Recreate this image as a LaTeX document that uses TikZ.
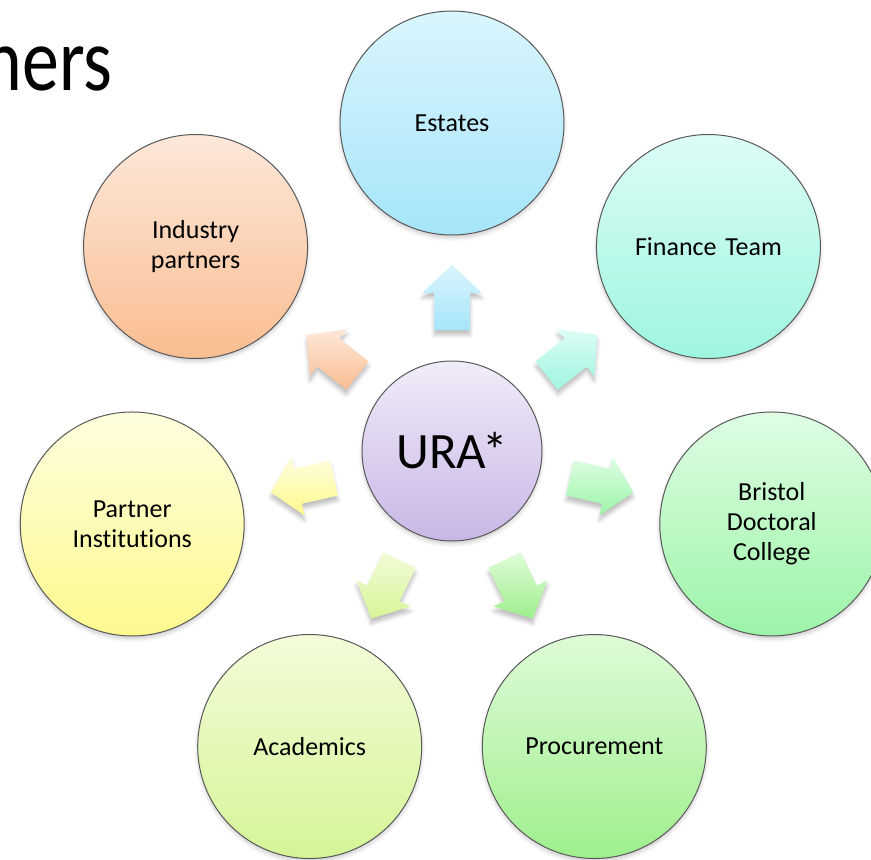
\documentclass[tikz,border=0pt]{standalone}
\usepackage{fontspec}
\setmainfont{Carlito}[Ligatures=NoCommon, WordSpace=0.8]
\usepackage{tikz}
\usetikzlibrary{calc,shadows.blur}

\definecolor{uraTop}{HTML}{F1ECF9}
\definecolor{uraBot}{HTML}{C8B6E5}
\definecolor{estatesTop}{HTML}{DAF5FD}
\definecolor{estatesBot}{HTML}{A6E5FA}
\definecolor{financeTop}{HTML}{DCFDF6}
\definecolor{financeBot}{HTML}{9EF5E0}
\definecolor{bristolTop}{HTML}{DFFDE4}
\definecolor{bristolBot}{HTML}{9CF4A8}
\definecolor{procureTop}{HTML}{DFFBD8}
\definecolor{procureBot}{HTML}{9FEF8D}
\definecolor{academicsTop}{HTML}{F3FCD8}
\definecolor{academicsBot}{HTML}{D5F597}
\definecolor{partnerTop}{HTML}{FFFEDE}
\definecolor{partnerBot}{HTML}{FDF98E}
\definecolor{industryTop}{HTML}{FDE8DA}
\definecolor{industryBot}{HTML}{F9BD91}

\begin{document}
\begin{tikzpicture}[x=0.5pt, y=0.5pt,
    unit/.style={circle, draw=black!65, line width=0.5pt, minimum size=112pt, inner sep=2pt,
        text width=95pt, align=center, font=\fontsize{13}{15}\selectfont,
        blur shadow={shadow xshift=0pt, shadow yshift=-1.5pt, shadow opacity=20, shadow blur steps=4}},
    blockarrow/.style={draw=none,
        blur shadow={shadow xshift=0pt, shadow yshift=-2.5pt, shadow opacity=25, shadow blur steps=4}}]
    \useasboundingbox (0,0) rectangle (871,859);
    \clip (0,0) rectangle (871,859);

    % Title left over from the slide
    \node [anchor=base east, font=\fontsize{45}{50}\selectfont, xscale=0.82, transform shape, inner sep=0pt] (title) at (113,769) {ners};

    % Place nodes
    \node [unit, minimum size=90pt, text width=80pt, top color=uraTop, bottom color=uraBot,
        font=\fontsize{25.5}{28}\selectfont] (ura) at (452,408) {URA\kern-2pt*};
    \node [unit, top color=estatesTop, bottom color=estatesBot] (estates) at ($(ura)+(90:328)$) {Estates};
    \node [unit, top color=financeTop, bottom color=financeBot] (finance) at ($(ura)+(38.571:328)$) {Finance Team};
    \node [unit, top color=bristolTop, bottom color=bristolBot] (bristol) at ($(ura)+(-12.857:328)$) {Bristol\\Doctoral\\College};
    \node [unit, top color=procureTop, bottom color=procureBot] (procure) at ($(ura)+(-64.286:328)$) {Procurement};
    \node [unit, top color=academicsTop, bottom color=academicsBot] (academics) at ($(ura)+(-115.714:328)$) {Academics};
    \node [unit, top color=partnerTop, bottom color=partnerBot] (partner) at ($(ura)+(-167.143:328)$) {Partner\\Institutions};
    \node [unit, top color=industryTop, bottom color=industryBot] (industry) at ($(ura)+(141.429:328)$) {Industry\\partners};

    % Arrows out of the centre
    \foreach \n/\a in {estates/90, finance/38.571, bristol/-12.857, procure/-64.286,
                       academics/-115.714, partner/-167.143, industry/141.429}
        \path [blockarrow, shift={(ura)}, rotate=\a, top color=\n Top, bottom color=\n Bot]
            (121,-18) -- (158,-18) -- (158,-30) -- (186,0) -- (158,30) -- (158,18) -- (121,18) -- cycle;
\end{tikzpicture}
\end{document}
